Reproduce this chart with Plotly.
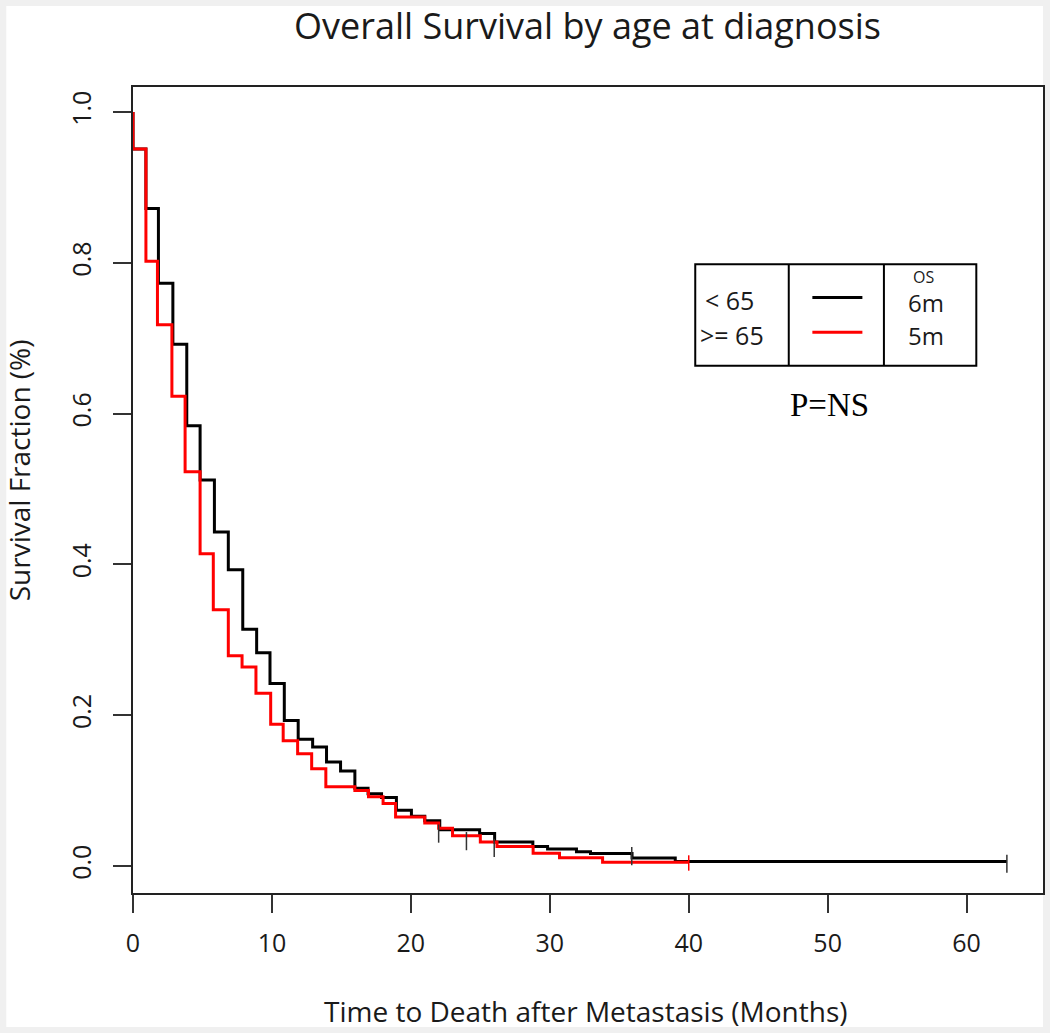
import plotly.graph_objects as go

# ---------------- data ----------------
lt65_time = [0, 0, 0.93, 1.83, 2.87, 3.87, 4.83, 5.86, 6.86, 7.90, 8.90, 9.86, 10.89, 11.89,
             12.93, 13.93, 14.94, 15.97, 16.92, 17.89, 18.96, 20.04, 21.00, 22.08, 24.95,
             26.03, 28.78, 29.84, 31.92, 32.93, 35.92, 39.03, 62.9]
lt65_surv = [1.0, 0.951, 0.872, 0.773, 0.692, 0.584, 0.512, 0.443, 0.393, 0.314, 0.283, 0.242,
             0.193, 0.168, 0.158, 0.138, 0.126, 0.103, 0.096, 0.091, 0.074, 0.066, 0.060, 0.048,
             0.043, 0.032, 0.026, 0.0225, 0.019, 0.0167, 0.0107, 0.006, 0.006]

ge65_time = [0, 0, 0.93, 1.76, 2.80, 3.75, 4.83, 5.78, 6.86, 7.85, 8.85, 9.91, 10.81, 11.85,
             12.86, 13.88, 15.97, 16.95, 18.0, 18.9, 21.0, 22.0, 23.0, 25.0, 26.2, 28.8, 30.7,
             33.8, 40.0]
ge65_surv = [1.0, 0.951, 0.802, 0.718, 0.623, 0.523, 0.414, 0.340, 0.279, 0.264, 0.229, 0.188,
             0.166, 0.149, 0.129, 0.105, 0.100, 0.092, 0.083, 0.065, 0.057, 0.050, 0.040, 0.032,
             0.026, 0.017, 0.011, 0.005, 0.005]

lt65_censor_time = [22.0, 24.0, 26.0, 35.9, 62.9]
lt65_censor_surv = [0.043, 0.033, 0.024, 0.013, 0.003]
ge65_censor_time = [40.0]
ge65_censor_surv = [0.004]

group_labels = ["< 65", ">= 65"]
median_os = ["6m", "5m"]
x_ticks = [0, 10, 20, 30, 40, 50, 60]
y_ticks = [0.0, 0.2, 0.4, 0.6, 0.8, 1.0]
y_tick_text = ["0.0", "0.2", "0.4", "0.6", "0.8", "1.0"]
p_text = "P=NS"

BLACK = "#000000"
RED = "#ff0000"
FONT = "Open Sans"
TXT = "#1a1a1a"

fig = go.Figure()
fig.add_trace(go.Scatter(x=lt65_time, y=lt65_surv, mode="lines", line_shape="hv",
                         line=dict(color=BLACK, width=3), showlegend=False))
fig.add_trace(go.Scatter(x=ge65_time, y=ge65_surv, mode="lines", line_shape="hv",
                         line=dict(color=RED, width=3), showlegend=False))
fig.add_trace(go.Scatter(x=lt65_censor_time, y=lt65_censor_surv, mode="markers",
                         marker=dict(symbol="line-ns", size=13,
                                     line=dict(color="#333333", width=1.5)),
                         showlegend=False))
fig.add_trace(go.Scatter(x=ge65_censor_time, y=ge65_censor_surv, mode="markers",
                         marker=dict(symbol="line-ns", size=11,
                                     line=dict(color=RED, width=1.5)),
                         showlegend=False))

# plot area in pixels: x 133..1045, y 87..893
L, R, T, B = 133, 5, 87, 140
W, H = 1050, 1033
PW, PH = W - L - R, H - T - B


def px(xp):
    return (xp - L) / PW


def py(yp):
    return (H - B - yp) / PH


shapes = [
    # white page inside gray frame
    dict(type="rect", xref="paper", yref="paper", x0=px(6), x1=px(1045), y0=py(1027), y1=py(6),
         fillcolor="white", line=dict(width=0), layer="below"),
    # legend table
    dict(type="rect", xref="x", yref="y", x0=40.47, x1=60.7, y0=0.6635, y1=0.798,
         line=dict(color="black", width=2)),
    dict(type="line", xref="x", yref="y", x0=47.2, x1=47.2, y0=0.6635, y1=0.798,
         line=dict(color="black", width=2)),
    dict(type="line", xref="x", yref="y", x0=54.05, x1=54.05, y0=0.6635, y1=0.798,
         line=dict(color="black", width=2)),
    dict(type="line", xref="x", yref="y", x0=48.9, x1=52.5, y0=0.754, y1=0.754,
         line=dict(color=BLACK, width=3)),
    dict(type="line", xref="x", yref="y", x0=48.9, x1=52.5, y0=0.708, y1=0.708,
         line=dict(color=RED, width=3)),
]

annotations = [
    dict(text=group_labels[0], x=41.0, y=0.751, xref="x", yref="y", xanchor="left",
         yanchor="middle", showarrow=False, font=dict(family=FONT, size=25, color=TXT)),
    dict(text=group_labels[1], x=40.7, y=0.704, xref="x", yref="y", xanchor="left",
         yanchor="middle", showarrow=False, font=dict(family=FONT, size=25, color=TXT)),
    dict(text="OS", x=56.93, y=0.781, xref="x", yref="y", xanchor="center",
         yanchor="middle", showarrow=False, font=dict(family=FONT, size=16, color=TXT)),
    dict(text=median_os[0], x=57.05, y=0.748, xref="x", yref="y", xanchor="center",
         yanchor="middle", showarrow=False, font=dict(family=FONT, size=24, color=TXT)),
    dict(text=median_os[1], x=57.05, y=0.703, xref="x", yref="y", xanchor="center",
         yanchor="middle", showarrow=False, font=dict(family=FONT, size=24, color=TXT)),
    dict(text=p_text, x=50.12, y=0.611, xref="x", yref="y", xanchor="center",
         yanchor="middle", showarrow=False,
         font=dict(family="Liberation Serif", size=33, color="black")),
    # axis titles
    dict(text="Time to Death after Metastasis (Months)", x=px(587), y=py(1011),
         xref="paper", yref="paper", xanchor="center", yanchor="middle", showarrow=False,
         font=dict(family=FONT, size=28, color=TXT)),
    dict(text="Survival Fraction (%)", x=px(19), y=py(470), xref="paper", yref="paper",
         xanchor="center", yanchor="middle", textangle=-90, showarrow=False,
         font=dict(family=FONT, size=28, color=TXT)),
    # main title (as annotation for exact placement)
    dict(text="Overall Survival by age at diagnosis", x=px(588), y=py(26),
         xref="paper", yref="paper", xanchor="center", yanchor="middle", showarrow=False,
         font=dict(family=FONT, size=36, color=TXT)),
]

fig.update_layout(
    width=W, height=H,
    margin=dict(l=L, r=R, t=T, b=B),
    paper_bgcolor="#f0f0f0",
    plot_bgcolor="white",
    shapes=shapes,
    annotations=annotations,
    showlegend=False,
)
fig.update_xaxes(range=[0, 65.5], tickvals=x_ticks, ticks="outside", ticklen=18,
                 tickwidth=1.5, tickcolor="#333", showline=True, mirror=True,
                 linecolor="#222", linewidth=1.5, showgrid=False, zeroline=False,
                 tickfont=dict(family=FONT, size=25, color=TXT), ticklabelstandoff=9)
fig.update_yaxes(range=[-0.0358, 1.0332], tickvals=y_ticks, ticktext=y_tick_text,
                 ticks="outside", ticklen=18, tickwidth=1.5, tickcolor="#333",
                 showline=True, mirror=True, linecolor="#222", linewidth=1.5,
                 showgrid=False, zeroline=False, tickangle=-90,
                 tickfont=dict(family=FONT, size=25, color=TXT), ticklabelstandoff=12)

fig.write_html(
    "out.html",
    config={"displayModeBar": False},
    post_script="document.body.style.margin='0px';document.body.style.overflow='hidden';",
)
